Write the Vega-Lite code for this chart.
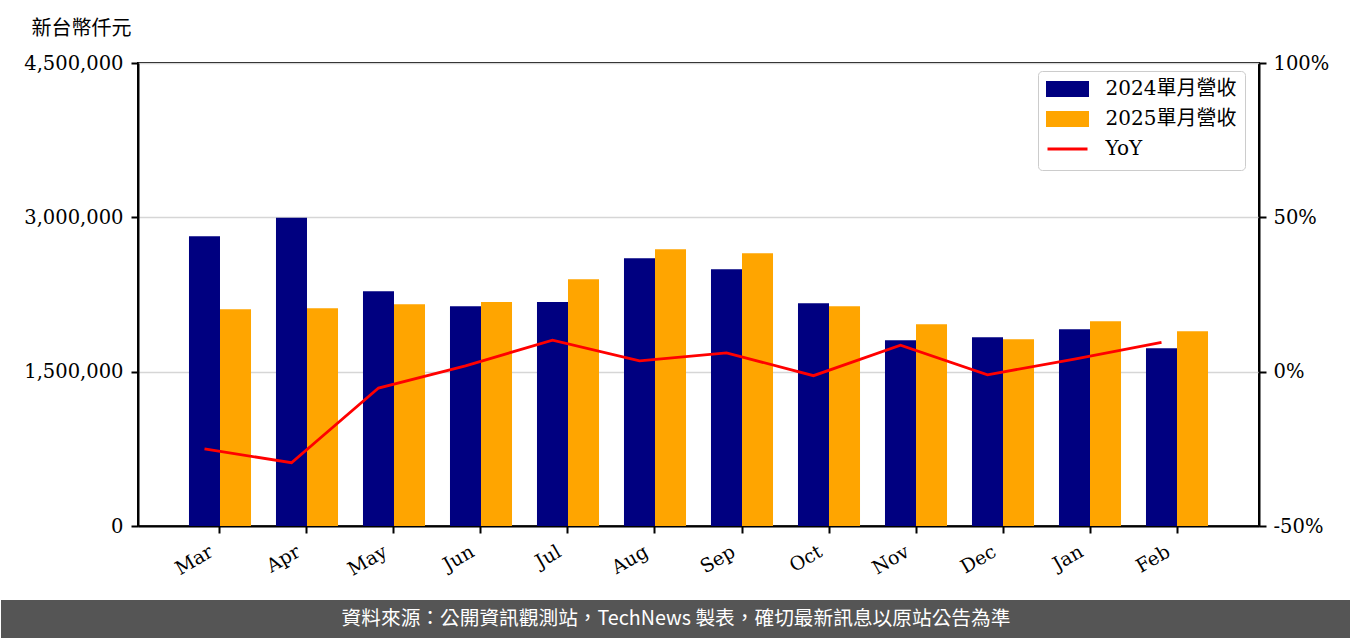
{
  "$schema": "https://vega.github.io/schema/vega-lite/v6.json",
  "padding": {"top": 17, "left": 0, "right": 0, "bottom": 0},
  "spacing": 0,
  "background": "white",
  "config": {
    "view": {"stroke": null},
    "font": "DejaVu Serif, Noto Sans CJK TC"
  },
  "datasets": {
    "bars": [
      {"month": "Mar", "series": "2024單月營收", "revenue": 2816000},
      {"month": "Mar", "series": "2025單月營收", "revenue": 2107000},
      {"month": "Apr", "series": "2024單月營收", "revenue": 2997000},
      {"month": "Apr", "series": "2025單月營收", "revenue": 2117000},
      {"month": "May", "series": "2024單月營收", "revenue": 2282000},
      {"month": "May", "series": "2025單月營收", "revenue": 2155000},
      {"month": "Jun", "series": "2024單月營收", "revenue": 2136000},
      {"month": "Jun", "series": "2025單月營收", "revenue": 2178000},
      {"month": "Jul", "series": "2024單月營收", "revenue": 2178000},
      {"month": "Jul", "series": "2025單月營收", "revenue": 2398000},
      {"month": "Aug", "series": "2024單月營收", "revenue": 2602000},
      {"month": "Aug", "series": "2025單月營收", "revenue": 2689000},
      {"month": "Sep", "series": "2024單月營收", "revenue": 2495000},
      {"month": "Sep", "series": "2025單月營收", "revenue": 2650000},
      {"month": "Oct", "series": "2024單月營收", "revenue": 2165000},
      {"month": "Oct", "series": "2025單月營收", "revenue": 2136000},
      {"month": "Nov", "series": "2024單月營收", "revenue": 1806000},
      {"month": "Nov", "series": "2025單月營收", "revenue": 1961000},
      {"month": "Dec", "series": "2024單月營收", "revenue": 1835000},
      {"month": "Dec", "series": "2025單月營收", "revenue": 1816000},
      {"month": "Jan", "series": "2024單月營收", "revenue": 1913000},
      {"month": "Jan", "series": "2025單月營收", "revenue": 1990000},
      {"month": "Feb", "series": "2024單月營收", "revenue": 1728000},
      {"month": "Feb", "series": "2025單月營收", "revenue": 1893000}
    ],
    "yoy": [
      {"month": "Mar", "yoy": -25.0},
      {"month": "Apr", "yoy": -29.5},
      {"month": "May", "yoy": -5.3},
      {"month": "Jun", "yoy": 1.9},
      {"month": "Jul", "yoy": 10.2},
      {"month": "Aug", "yoy": 3.5},
      {"month": "Sep", "yoy": 6.1},
      {"month": "Oct", "yoy": -1.3},
      {"month": "Nov", "yoy": 8.6},
      {"month": "Dec", "yoy": -1.0},
      {"month": "Jan", "yoy": 4.1},
      {"month": "Feb", "yoy": 9.5}
    ]
  },
  "vconcat": [
    {
      "width": 1121,
      "height": 463,
      "view": {"stroke": "black", "strokeWidth": 2},
      "layer": [
        {
          "data": {"name": "bars"},
          "mark": {"type": "bar"},
          "encoding": {
            "x": {
              "field": "month",
              "type": "nominal",
              "sort": ["Mar", "Apr", "May", "Jun", "Jul", "Aug", "Sep", "Oct", "Nov", "Dec", "Jan", "Feb"],
              "scale": {"paddingInner": 0.287, "paddingOuter": 0.586},
              "axis": {
                "title": null,
                "labelAngle": -30,
                "labelAlign": "right",
                "labelBaseline": "top",
                "labelFontSize": 19,
                "labelColor": "black",
                "labelPadding": 9,
                "labelOffset": -13,
                "tickColor": "black",
                "tickSize": 7,
                "tickWidth": 2,
                "domainColor": "black",
                "domainWidth": 2,
                "grid": false,
                "minExtent": 73
              }
            },
            "xOffset": {
              "field": "series",
              "type": "nominal",
              "scale": {"paddingInner": 0, "paddingOuter": 0}
            },
            "y": {
              "field": "revenue",
              "type": "quantitative",
              "scale": {"domain": [0, 4500000], "nice": false},
              "axis": {
                "title": "新台幣仟元",
                "titleAngle": 0,
                "titleAlign": "left",
                "titleBaseline": "middle",
                "titleX": -107,
                "titleY": -35,
                "titleFontSize": 20,
                "titleFont": "Noto Sans CJK TC",
                "titleFontWeight": "normal",
                "titleColor": "black",
                "values": [0, 1500000, 3000000, 4500000],
                "format": ",.0f",
                "labelFontSize": 19.5,
                "labelColor": "black",
                "labelPadding": 8,
                "tickColor": "black",
                "tickSize": 7,
                "tickWidth": 2,
                "domainColor": "black",
                "domainWidth": 2,
                "grid": true,
                "gridColor": "#d6d6d6",
                "gridWidth": 1.5,
                "minExtent": 137
              }
            },
            "color": {
              "field": "series",
              "type": "nominal",
              "scale": {
                "domain": ["2024單月營收", "2025單月營收", "YoY"],
                "range": ["#000080", "#FFA500", "#FF0000"]
              },
              "legend": {
                "title": null,
                "orient": "none",
                "legendX": 900,
                "legendY": 8,
                "labelFontSize": 20,
                "labelColor": "black",
                "labelFont": "DejaVu Serif, Noto Sans CJK TC",
                "symbolType": {"expr": "datum.label == 'YoY' ? 'M-2.5,-0.8M-2.5,0H2.5M2.5,0.8' : 'M-2.5,-0.8H2.5V0.8H-2.5Z'"},
                "symbolSize": 256,
                "symbolStrokeWidth": 3,
                "symbolOffset": 11.5,
                "labelOffset": 28,
                "rowPadding": 4,
                "padding": 8,
                "strokeColor": "#cccccc",
                "fillColor": "rgba(255,255,255,0.8)",
                "cornerRadius": 4
              }
            }
          }
        },
        {
          "data": {"name": "yoy"},
          "mark": {"type": "line", "strokeWidth": 2.8, "xOffset": -15.5},
          "encoding": {
            "x": {
              "field": "month",
              "type": "nominal",
              "sort": ["Mar", "Apr", "May", "Jun", "Jul", "Aug", "Sep", "Oct", "Nov", "Dec", "Jan", "Feb"]
            },
            "y": {
              "field": "yoy",
              "type": "quantitative",
              "scale": {"domain": [-50, 100], "nice": false},
              "axis": {
                "orient": "right",
                "title": null,
                "values": [-50, 0, 50, 100],
                "labelExpr": "datum.value + '%'",
                "labelFontSize": 19.5,
                "labelColor": "black",
                "labelPadding": 7,
                "tickColor": "black",
                "tickSize": 7,
                "tickWidth": 2,
                "domainColor": "black",
                "domainWidth": 2,
                "grid": false,
                "minExtent": 92
              }
            },
            "color": {"datum": "YoY"}
          }
        }
      ],
      "resolve": {"scale": {"y": "independent"}}
    },
    {
      "width": 1121,
      "height": 38,
      "data": {"values": [{"note": "資料來源：公開資訊觀測站，TechNews 製表，確切最新訊息以原站公告為準"}]},
      "layer": [
        {
          "mark": {"type": "rect", "color": "#555555", "xOffset": -137, "x2Offset": 92},
          "encoding": {
            "x": {"datum": 0, "type": "quantitative", "scale": {"domain": [0, 1], "nice": false, "zero": false}, "axis": null},
            "x2": {"datum": 1}
          }
        },
        {
          "mark": {"type": "text", "color": "white", "font": "Noto Sans CJK TC", "fontSize": 19.7, "dx": -22.5},
          "encoding": {"text": {"field": "note", "type": "nominal"}}
        }
      ]
    }
  ]
}
